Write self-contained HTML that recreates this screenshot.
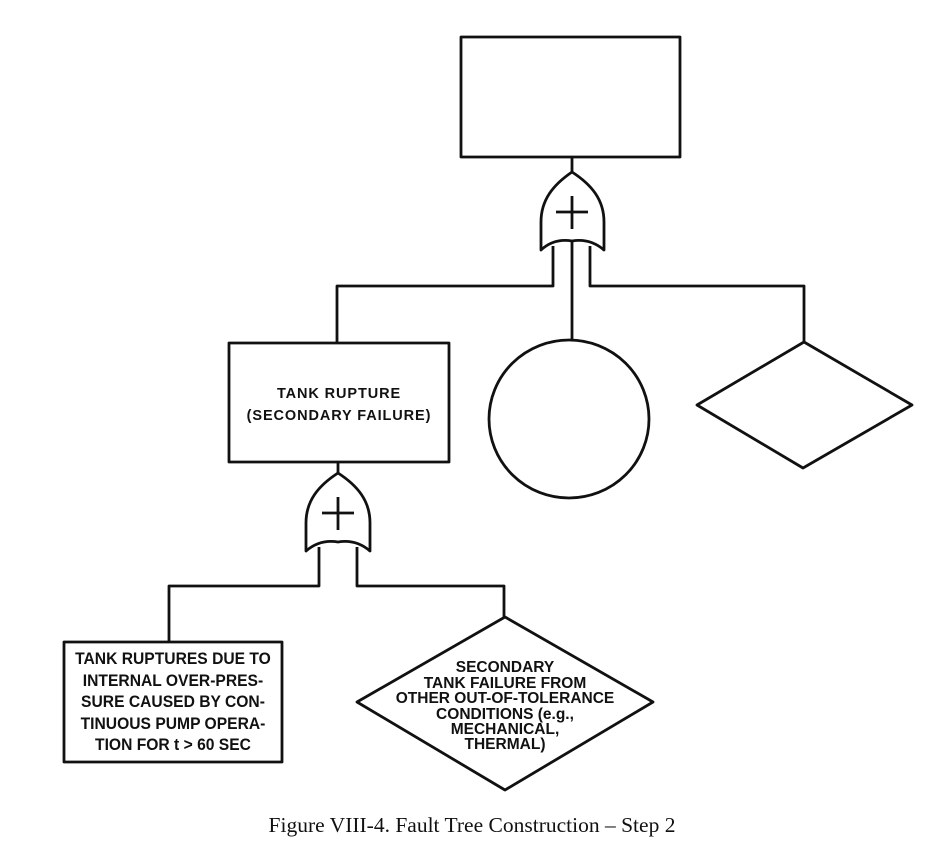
<!DOCTYPE html>
<html><head><meta charset="utf-8"><style>
html,body{margin:0;padding:0;background:#fff;}
svg{display:block;}
.t{font-family:"Liberation Sans",sans-serif;font-weight:bold;fill:#111;text-anchor:middle;}
</style></head><body>
<svg width="945" height="864" viewBox="0 0 945 864" xmlns="http://www.w3.org/2000/svg">
<g fill="none" stroke="#111" stroke-width="2.8" stroke-linejoin="round">
<rect x="461" y="37" width="219" height="120"/>
<line x1="572" y1="157" x2="572" y2="172"/>
<path d="M572,172 C592,185 604,200 604,222 L604,250 Q590,238 572,241 Q554,238 541,250 L541,222 C541,200 553,185 572,172 Z" fill="#fff"/>
<line x1="572" y1="196" x2="572" y2="229"/>
<line x1="556" y1="212" x2="588" y2="212"/>
<line x1="572" y1="241" x2="572" y2="340"/>
<polyline points="553,246 553,286 337,286 337,343"/>
<polyline points="590,246 590,286 804,286 804,342"/>
<ellipse cx="569" cy="419" rx="80" ry="79"/>
<polygon points="804,342 912,405 803,468 697,405"/>
<rect x="229" y="343" width="220" height="119"/>
<line x1="338" y1="462" x2="338" y2="473"/>
<path d="M338,473 C358,486 370,501 370,523 L370,551 Q356,539 338,542 Q320,539 306,551 L306,523 C306,501 318,486 338,473 Z" fill="#fff"/>
<line x1="338" y1="497" x2="338" y2="530"/>
<line x1="322" y1="513" x2="354" y2="513"/>
<polyline points="319,547 319,586 169,586 169,642"/>
<polyline points="357,547 357,586 504,586 504,617"/>
<rect x="64" y="642" width="218" height="120"/>
<polygon points="505,617 653,702 505,790 357,702"/>
</g>
<g class="t" font-size="14.5" letter-spacing="0.9">
<text x="339" y="398">TANK RUPTURE</text>
<text x="339" y="420">(SECONDARY FAILURE)</text>
</g>
<g class="t" font-size="17" transform="translate(173,0) scale(0.92,1) translate(-173,0)">
<text x="173" y="664">TANK RUPTURES DUE TO</text>
<text x="173" y="686">INTERNAL OVER-PRES-</text>
<text x="173" y="707">SURE CAUSED BY CON-</text>
<text x="173" y="729">TINUOUS PUMP OPERA-</text>
<text x="173" y="750">TION FOR t &gt; 60 SEC</text>
</g>
<g class="t" font-size="16" transform="translate(505,0) scale(0.97,1) translate(-505,0)">
<text x="505" y="672">SECONDARY</text>
<text x="505" y="688">TANK FAILURE FROM</text>
<text x="505" y="703">OTHER OUT-OF-TOLERANCE</text>
<text x="505" y="719">CONDITIONS (e.g.,</text>
<text x="505" y="734">MECHANICAL,</text>
<text x="505" y="749">THERMAL)</text>
</g>
<text x="472" y="832" font-family="Liberation Serif,serif" font-size="21.5" fill="#111" text-anchor="middle">Figure VIII-4.  Fault Tree Construction – Step 2</text>
</svg>
</body></html>
